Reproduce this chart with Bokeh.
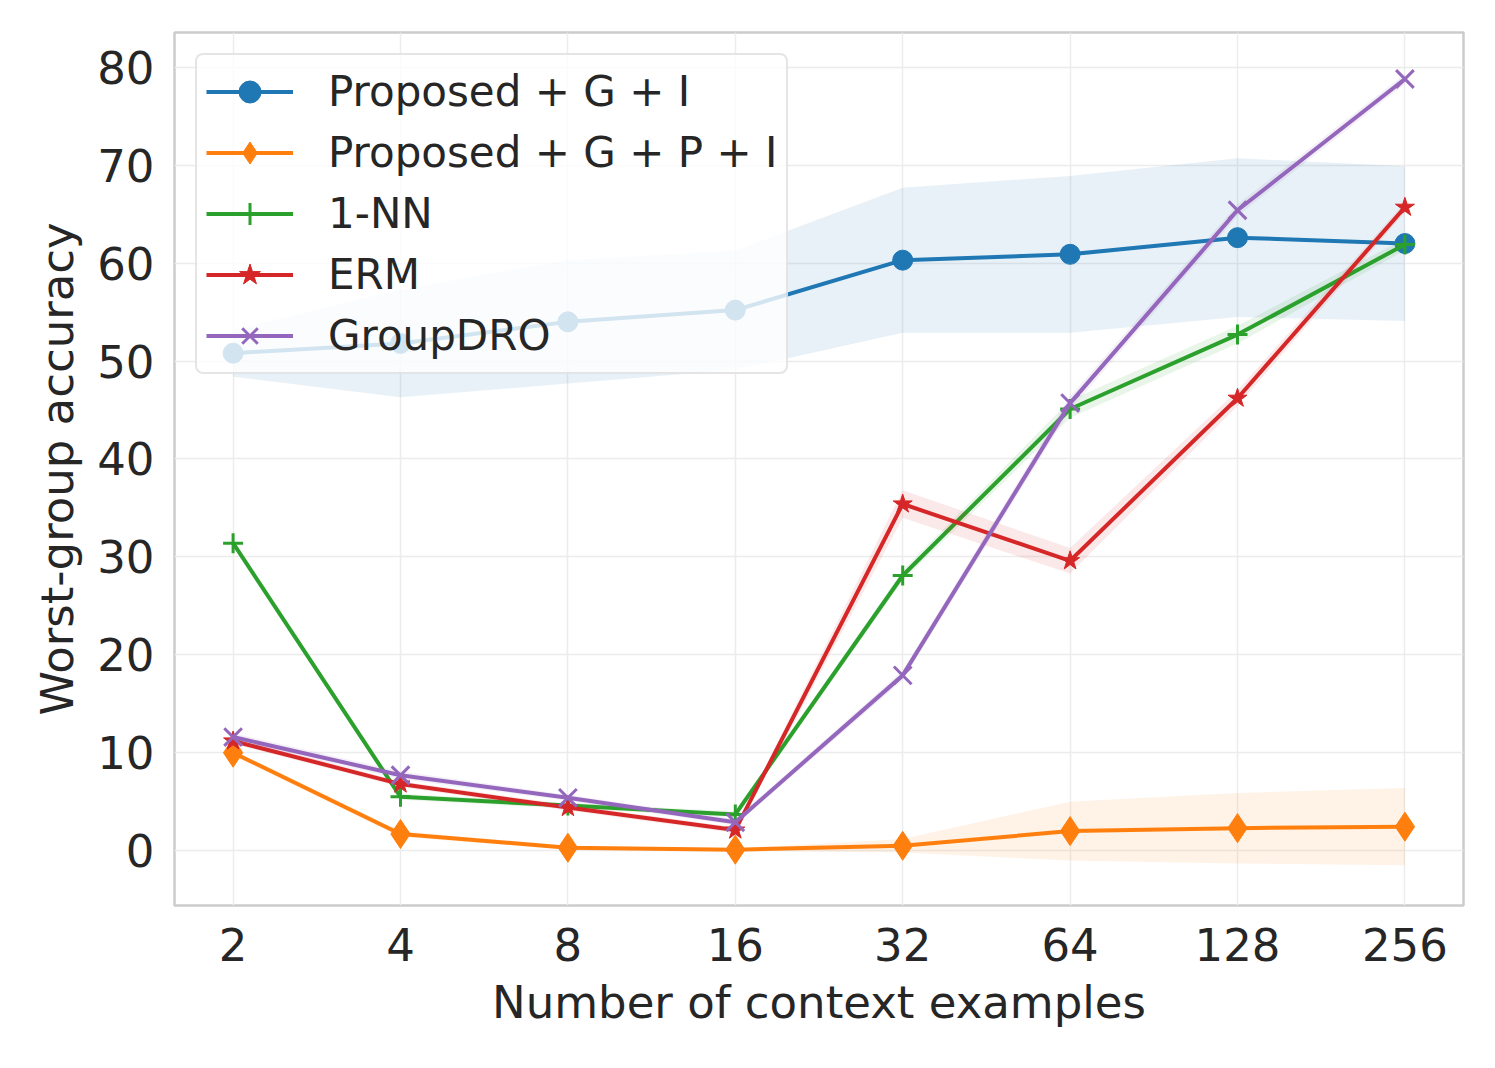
import numpy as np
from bokeh.plotting import figure
from bokeh.models import Range1d, FixedTicker, Legend, LegendItem
from bokeh.embed import file_html
from bokeh.resources import INLINE

n_examples = [2, 4, 8, 16, 32, 64, 128, 256]

gi_mean = [50.8, 51.8, 54.0, 55.2, 60.3, 60.9, 62.6, 62.0]
gi_std = [2.4, 5.5, 6.3, 6.1, 7.4, 8.0, 8.1, 7.9]

gpi_mean = [10.0, 1.7, 0.3, 0.1, 0.5, 2.0, 2.3, 2.45]
gpi_std = [0.3, 0.3, 0.2, 0.1, 0.7, 3.0, 3.6, 3.95]

nn_mean = [31.4, 5.5, 4.6, 3.7, 28.1, 45.1, 52.7, 61.9]
nn_std = [0.3, 0.3, 0.3, 0.3, 0.5, 0.9, 0.9, 0.6]

erm_mean = [11.2, 6.8, 4.4, 2.1, 35.4, 29.6, 46.2, 65.7]
erm_std = [0.3, 0.3, 0.3, 0.3, 1.4, 1.3, 0.8, 0.5]

dro_mean = [11.6, 7.7, 5.4, 2.9, 17.9, 45.7, 65.4, 78.8]
dro_std = [0.4, 0.4, 0.3, 0.3, 0.5, 0.7, 0.6, 0.5]

series = [
    ("Proposed + G + I", gi_mean, gi_std, "#1f77b4", "circle", 20),
    ("Proposed + G + P + I", gpi_mean, gpi_std, "#ff7f0e", "diamond", 29),
    ("1-NN", nn_mean, nn_std, "#2ca02c", "cross", 20),
    ("ERM", erm_mean, erm_std, "#d62728", "star", 20),
    ("GroupDRO", dro_mean, dro_std, "#9467bd", "x", 25),
]

TXT = "#262626"
FONT = "DejaVu Sans"

x = np.log2(np.array(n_examples, dtype=float))

p = figure(width=1479, height=1052, output_backend="svg", toolbar_location=None,
           x_range=Range1d(0.65, 8.35), y_range=Range1d(-5.6, 83.55),
           min_border_left=174, min_border_right=16, min_border_top=32,
           min_border_bottom=147)
p.background_fill_color = "white"
p.border_fill_color = "white"
p.outline_line_color = "#cccccc"
p.outline_line_width = 2.5

p.xaxis.ticker = FixedTicker(ticks=list(x))
p.xaxis.major_label_overrides = {float(v): str(n) for v, n in zip(x, n_examples)}
p.yaxis.ticker = FixedTicker(ticks=[0, 10, 20, 30, 40, 50, 60, 70, 80])
p.xaxis.axis_label = "Number of context examples"
p.yaxis.axis_label = "Worst-group accuracy"

for ax in (p.xaxis[0], p.yaxis[0]):
    ax.axis_line_color = None
    ax.major_tick_line_color = None
    ax.minor_tick_line_color = None
    ax.major_tick_out = 0
    ax.major_tick_in = 0
    ax.major_label_text_font = FONT
    ax.major_label_text_font_size = "45px"
    ax.major_label_text_color = TXT
    ax.axis_label_text_font = FONT
    ax.axis_label_text_font_size = "45px"
    ax.axis_label_text_color = TXT
    ax.axis_label_text_font_style = "normal"

p.xaxis.major_label_standoff = 22
p.xaxis.axis_label_standoff = 12
p.yaxis.major_label_standoff = 20
p.yaxis.axis_label_standoff = 10

p.xgrid.grid_line_color = "#ececec"
p.ygrid.grid_line_color = "#ececec"
p.xgrid.grid_line_width = 1.5
p.ygrid.grid_line_width = 1.5

items = []
for name, mean, std, color, marker, size in series:
    m = np.array(mean)
    s = np.array(std)
    p.varea(x=x, y1=m - s, y2=m + s, fill_color=color, fill_alpha=0.1)
    ln = p.line(x, m, line_color=color, line_width=4)
    if marker in ("cross", "x"):
        sc = p.scatter(x, m, marker=marker, size=size, line_color=color,
                       line_width=3)
    else:
        sc = p.scatter(x, m, marker=marker, size=size, fill_color=color,
                       line_color=color, line_width=1)
    items.append(LegendItem(label=name, renderers=[ln, sc]))

legend = Legend(items=items, location="top_left")
legend.margin = 21
legend.padding = 9
legend.spacing = 6
legend.glyph_width = 87
legend.glyph_height = 55
legend.label_height = 55
legend.label_standoff = 35
legend.label_text_font = FONT
legend.label_text_font_size = "42px"
legend.label_text_color = TXT
legend.background_fill_color = "white"
legend.background_fill_alpha = 0.8
legend.border_line_color = "#cccccc"
legend.border_line_width = 2.5
try:
    legend.border_radius = 8
except Exception:
    pass
p.add_layout(legend, "center")

open("out.html", "w").write(file_html(p, INLINE))
